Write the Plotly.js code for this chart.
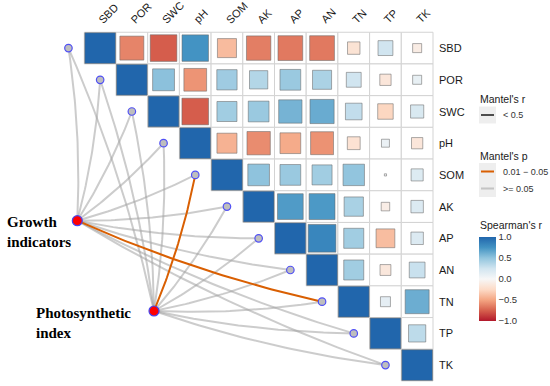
<!DOCTYPE html>
<html><head><meta charset="utf-8">
<script src="https://cdn.plot.ly/plotly-3.0.1.min.js"></script>
<style>html,body{margin:0;padding:0;background:#fff}</style>
</head><body><div id="chart" style="width:550px;height:386px"></div>
<script>
// ---------------- data ----------------
const variables = ['SBD','POR','SWC','pH','SOM','AK','AP','AN','TN','TP','TK'];
// Spearman's r, upper triangle, each row starting at the diagonal
const rSBD = [1, -0.62, -0.76, 0.75, -0.40, -0.64, -0.66, -0.66, -0.18, 0.25, -0.10];
const rPOR = [1, 0.52, -0.56, 0.45, 0.37, 0.47, 0.40, 0.25, -0.15, 0.10];
const rSWC = [1, -0.76, 0.44, 0.47, 0.59, 0.63, 0.31, -0.27, 0.20];
const rPH  = [1, -0.44, -0.59, -0.47, -0.57, -0.19, 0.08, -0.15];
const rSOM = [1, 0.51, 0.47, 0.44, 0.50, 0.01, 0.17];
const rAK  = [1, 0.71, 0.72, 0.41, -0.09, 0.18];
const rAP  = [1, 0.82, 0.44, -0.39, 0.18];
const rAN  = [1, 0.44, -0.14, 0.28];
const rTN  = [1, 0.12, 0.62];
const rTP  = [1, 0.33];
const rTK  = [1];
const corrRows = [rSBD, rPOR, rSWC, rPH, rSOM, rAK, rAP, rAN, rTN, rTP, rTK];

// Mantel test groups and significance classes per variable
const mantelGroups = ['Growth indicators', 'Photosynthetic index'];
const mantelGrowthP = ['>= 0.05','>= 0.05','>= 0.05','>= 0.05','>= 0.05','>= 0.05','>= 0.05','>= 0.05','0.01 - 0.05','>= 0.05','>= 0.05'];
const mantelPhotoP  = ['>= 0.05','>= 0.05','>= 0.05','>= 0.05','0.01 - 0.05','>= 0.05','>= 0.05','>= 0.05','>= 0.05','>= 0.05','>= 0.05'];
const mantelRClasses = ['< 0.5'];
const mantelPClasses = ['0.01 - 0.05', '>= 0.05'];
const spearmanTicks = [-1, -0.5, 0, 0.5, 1];
const spearmanTickText = ['\u22121.0', '\u22120.5', '0.0', '0.5', '1.0'];

// ---------------- geometry ----------------
const W = 550, H = 386, CELL = 31.7, X0 = 100.15, Y0 = 48.1;
const px2x = p => (p - X0) / CELL;
const px2y = p => (p - Y0) / CELL;
const FONT = 'Liberation Sans, Arial, sans-serif';

const colorscale = [[0,'#B2182B'],[0.125,'#D6604D'],[0.25,'#F4A582'],[0.375,'#FDDBC7'],[0.5,'#F7F7F7'],
  [0.625,'#D1E5F0'],[0.75,'#92C5DE'],[0.875,'#4393C3'],[1,'#2166AC']];

// squares
const sqX=[], sqY=[], sqR=[], sqS=[];
corrRows.forEach((row,i)=>row.forEach((r,k)=>{
  sqX.push(i+k); sqY.push(i); sqR.push(r); sqS.push(Math.max(1, Math.sqrt(Math.abs(r))*CELL - 1));
}));

// grid cells
const shapes = [];
for (let i=0;i<variables.length;i++) for (let j=i;j<variables.length;j++) {
  shapes.push({type:'rect', xref:'x', yref:'y', x0:j-0.5, x1:j+0.5, y0:i-0.5, y1:i+0.5,
    line:{color:'#D3D3D3', width:1}, fillcolor:'#ffffff', layer:'below'});
}

// nodes
const diagX = variables.map((v,i)=>i-1), diagY = variables.map((v,i)=>i);
const groupNodes = [[px2x(77.3), px2y(220.7)], [px2x(154), px2y(311)]];
const groupP = [mantelGrowthP, mantelPhotoP];

function curve(a, b, k) {
  const dx=b[0]-a[0], dy=b[1]-a[1];
  const cx=(a[0]+b[0])/2 - k*dy, cy=(a[1]+b[1])/2 + k*dx;
  const xs=[], ys=[];
  for (let t=0;t<=1.0001;t+=1/40){
    xs.push((1-t)*(1-t)*a[0]+2*t*(1-t)*cx+t*t*b[0]);
    ys.push((1-t)*(1-t)*a[1]+2*t*(1-t)*cy+t*t*b[1]);
  }
  return [xs, ys];
}
const grayX=[], grayY=[], oraX=[], oraY=[];
groupNodes.forEach((nd,g)=>{
  variables.forEach((v,i)=>{
    const [xs,ys] = curve(nd, [diagX[i], diagY[i]], 0.05);
    if (groupP[g][i] === '0.01 - 0.05') { oraX.push(...xs, null); oraY.push(...ys, null); }
    else { grayX.push(...xs, null); grayY.push(...ys, null); }
  });
});

const traces = [
  {type:'scatter', mode:'lines', x:grayX, y:grayY, line:{color:'rgba(162,162,162,0.55)', width:2}, hoverinfo:'skip', name:'>= 0.05'},
  {type:'scatter', mode:'lines', x:oraX, y:oraY, line:{color:'#D95F02', width:2}, hoverinfo:'skip', name:'0.01 - 0.05'},
  {type:'scatter', mode:'markers', x:diagX, y:diagY, marker:{size:7.5, opacity:1, color:'#BEBEBE', line:{color:'#5050F5', width:1.2}}, hoverinfo:'skip'},
  {type:'scatter', mode:'markers', x:groupNodes.map(n=>n[0]), y:groupNodes.map(n=>n[1]), text:mantelGroups,
    marker:{size:10, opacity:1, color:'#FF0000', line:{color:'#4646F0', width:1.2}}, hoverinfo:'text'},
  {type:'scatter', mode:'markers', x:sqX, y:sqY, hoverinfo:'skip',
    marker:{symbol:'square', size:sqS, opacity:1, color:sqR, cmin:-1, cmax:1, colorscale:colorscale,
      line:{color:'rgba(105,105,105,0.55)', width:1}, showscale:true,
      colorbar:{thickness:17, thicknessmode:'pixels', len:84, lenmode:'pixels',
        x:479/W, xanchor:'left', xpad:0, y:1-321/H, yanchor:'bottom', ypad:0,
        outlinewidth:0, ticks:'', tickvals:spearmanTicks, ticktext:spearmanTickText,
        tickfont:{family:FONT, size:9.5, color:'#333'}}}}
];

const annotations = [];
variables.forEach((v,j)=>{
  annotations.push({text:v, x:j - 5/CELL, y:px2y(27), xref:'x', yref:'y', xanchor:'left', yanchor:'bottom',
    textangle:-45, showarrow:false, borderpad:0, font:{family:FONT, size:11, color:'#1a1a1a'}});
  annotations.push({text:v, x:px2x(438), y:j, xref:'x', yref:'y', xanchor:'left', yanchor:'middle',
    showarrow:false, borderpad:0, font:{family:FONT, size:11, color:'#1a1a1a'}});
});
const serif = {family:'Liberation Serif, Times New Roman, serif', size:15, color:'#000', weight:'bold'};
annotations.push({text:mantelGroups[0].replace(' ','<br>'), x:px2x(6), y:px2y(213), xanchor:'left', yanchor:'top',
  align:'left', showarrow:false, borderpad:0, font:serif});
annotations.push({text:mantelGroups[1].replace(' ','<br>'), x:px2x(35), y:px2y(304), xanchor:'left', yanchor:'top',
  align:'left', showarrow:false, borderpad:0, font:serif});

// manual Mantel legend + colorbar title
const legTitle = {family:FONT, size:10.5, color:'#1a1a1a'};
const legText = {family:FONT, size:9, color:'#333'};
function legendTitle(t, py){ annotations.push({text:t, x:px2x(479), y:px2y(py), xanchor:'left', yanchor:'middle', showarrow:false, borderpad:0, font:legTitle}); }
function legendKey(t, py, color){
  shapes.push({type:'rect', xref:'x', yref:'y', x0:px2x(479), x1:px2x(496), y0:px2y(py-8.5), y1:px2y(py+8.5), line:{width:0}, fillcolor:'#EEEEEE'});
  shapes.push({type:'line', xref:'x', yref:'y', x0:px2x(481), x1:px2x(494), y0:px2y(py), y1:px2y(py), line:{color:color, width:2}});
  annotations.push({text:t, x:px2x(502), y:px2y(py), xanchor:'left', yanchor:'middle', showarrow:false, borderpad:0, font:legText});
}
legendTitle("Mantel's r", 99);
legendKey(mantelRClasses[0], 115, '#4D4D4D');
legendTitle("Mantel's p", 155.5);
legendKey(mantelPClasses[0].replace('-', '\u2212'), 171.5, '#D95F02');
legendKey(mantelPClasses[1], 188.5, 'rgba(162,162,162,0.55)');
legendTitle("Spearman's r", 225);

const layout = {
  width:W, height:H, margin:{l:0,r:0,t:0,b:0}, paper_bgcolor:'#fff', plot_bgcolor:'#fff', showlegend:false,
  font:{family:FONT},
  xaxis:{range:[px2x(0), px2x(W)], visible:false, fixedrange:true},
  yaxis:{range:[px2y(H), px2y(0)], visible:false, fixedrange:true},
  shapes:shapes, annotations:annotations
};
Plotly.newPlot('chart', traces, layout, {displayModeBar:false, staticPlot:true});
</script></body></html>
